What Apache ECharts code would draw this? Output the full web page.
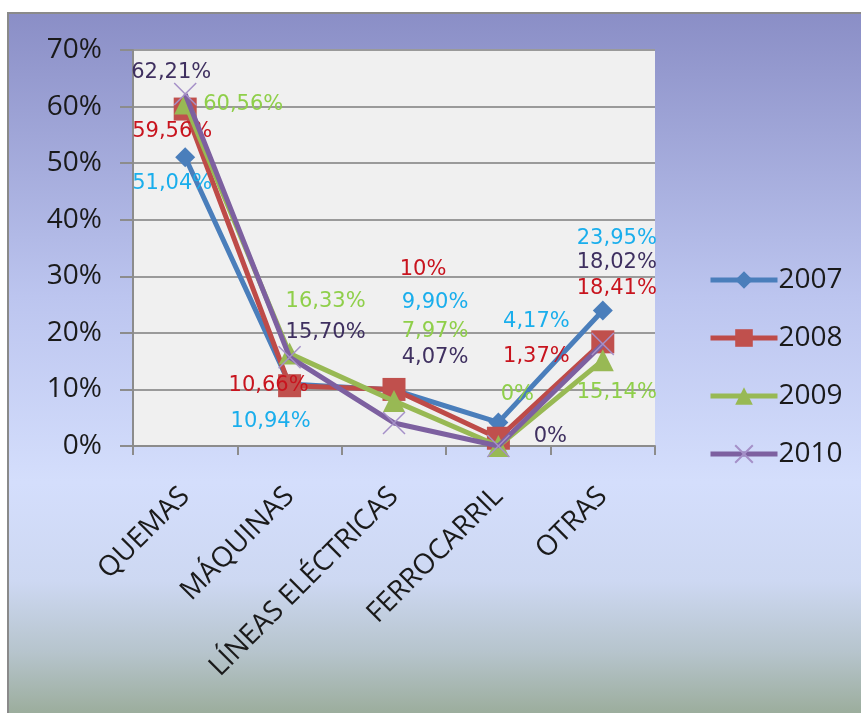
<!DOCTYPE html>
<html><head><meta charset="utf-8">
<script src="https://cdn.jsdelivr.net/npm/echarts@6/dist/echarts.min.js"></script>
<style>html,body{margin:0;padding:0;background:#fff}#c{width:861px;height:713px}</style>
</head><body><div id="c"></div>
<script>
const categories = ['QUEMAS', 'MÁQUINAS', 'LÍNEAS ELÉCTRICAS', 'FERROCARRIL', 'OTRAS'];
const years = ['2007', '2008', '2009', '2010'];
const v2007 = [51.04, 10.94, 9.90, 4.17, 23.95];
const v2008 = [59.56, 10.66, 10, 1.37, 18.41];
const v2009 = [60.56, 16.33, 7.97, 0, 15.14];
const v2010 = [62.21, 15.70, 4.07, 0, 18.02];
const yTicks = [0, 10, 20, 30, 40, 50, 60, 70];

// label offsets (styling, relative to each point)
const off2007 = [[-13,26],[-19,37],[41,-87],[38,-101],[14,-72]];
const off2008 = [[-13,22],[-21,0],[29,-120],[38,-82],[14,-53]];
const off2009 = [[58,1],[36,-52],[41,-69],[19,-51],[14,32]];
const off2010 = [[-14,-22],[36,-25],[41,-65],[52,-9],[14,-82]];

const lineColors = ['#4a7ebb', '#be4b48', '#98b954', '#7d60a0'];
const labelColors = ['#1aaeec', '#c8141e', '#8fcf4a', '#3f3060'];
const symbols = ['diamond', 'rect', 'triangle', 'path://M0,0L10,10M10,0L0,10'];
const symSizes = [20, 23, 22, 22];

function fmt(v) {
  if (Number.isInteger(v)) return v + '%';
  return v.toFixed(2).replace('.', ',') + '%';
}

const allVals = [v2007, v2008, v2009, v2010];
const allOffs = [off2007, off2008, off2009, off2010];

const series = allVals.map((vals, s) => ({
  name: years[s],
  type: 'line',
  data: vals,
  symbol: symbols[s],
  symbolSize: symSizes[s],
  lineStyle: { color: lineColors[s], width: 5 },
  itemStyle: s === 3
    ? { color: lineColors[s], borderColor: '#a590c8', borderWidth: 1.5 }
    : { color: s === 1 ? '#c0504d' : lineColors[s] },
  label: {
    show: true,
    position: 'inside',
    formatter: p => fmt(p.value),
    color: labelColors[s],
    fontFamily: 'DejaVu Sans',
    fontSize: 21,
    align: 'center',
    verticalAlign: 'middle'
  },
  labelLayout: p => ({
    dx: allOffs[s][p.dataIndex][0],
    dy: allOffs[s][p.dataIndex][1],
    hideOverlap: false,
    moveOverlap: false
  }),
  z: 2 + s,
  animation: false
}));

const chart = echarts.init(document.getElementById('c'));
chart.setOption({
  animation: false,
  graphic: [{
    type: 'rect',
    z: -10,
    silent: true,
    shape: { x: 8, y: 13, width: 860, height: 710 },
    style: {
      fill: {
        type: 'linear', x: 0, y: 0, x2: 0, y2: 1,
        colorStops: [
          { offset: 0, color: '#8a8ec6' },
          { offset: 0.4, color: '#bcc5ef' },
          { offset: 0.66, color: '#d4defc' },
          { offset: 0.8, color: '#cdd8f2' },
          { offset: 0.9, color: '#b6c4cc' },
          { offset: 1, color: '#97a994' }
        ]
      },
      stroke: '#8a8a8a',
      lineWidth: 2
    }
  }],
  grid: {
    left: 133, right: 206, top: 50, bottom: 267,
    show: true, backgroundColor: '#f0f0f0', borderWidth: 0
  },
  legend: {
    orient: 'vertical',
    left: 703, top: 261,
    itemWidth: 67, itemHeight: 22,
    itemGap: 30,
    data: years,
    lineStyle: { width: 5 },
    textStyle: { fontFamily: 'Open Sans', fontSize: 28, color: '#1a1a1a', lineHeight: 28, padding: [0, 0, 0, -4] }
  },
  xAxis: {
    type: 'category',
    data: categories,
    boundaryGap: true,
    axisLine: { lineStyle: { color: '#8c8c8c', width: 2 } },
    axisTick: { show: true, length: 9, lineStyle: { color: '#8c8c8c', width: 2 } },
    axisLabel: {
      rotate: 45, margin: 46, interval: 0,
      fontFamily: 'Open Sans', fontSize: 28, color: '#1a1a1a'
    },
    splitLine: { show: false }
  },
  yAxis: {
    type: 'value',
    min: yTicks[0], max: yTicks[yTicks.length - 1], interval: 10,
    axisLine: { show: true, lineStyle: { color: '#8c8c8c', width: 2 } },
    axisTick: { show: true, length: 13, lineStyle: { color: '#8c8c8c', width: 2 } },
    axisLabel: {
      formatter: '{value}%', margin: 31,
      fontFamily: 'Open Sans', fontSize: 28, color: '#1a1a1a'
    },
    splitLine: { show: true, lineStyle: { color: '#9a9a9a', width: 2 } }
  },
  series: series
});
</script>
</body></html>
